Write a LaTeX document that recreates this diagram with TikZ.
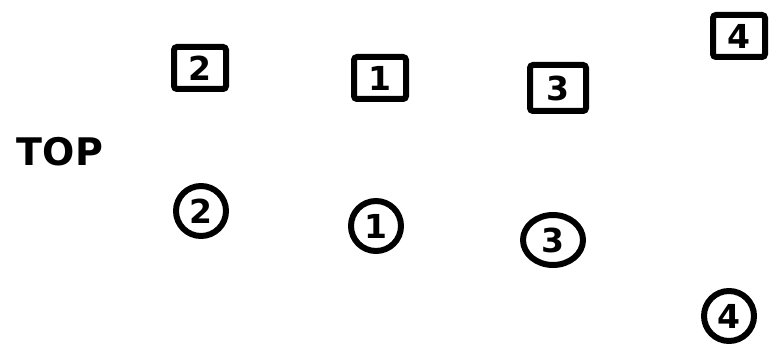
\documentclass[tikz,border=0pt]{standalone}
\usepackage{fontspec}
\usetikzlibrary{shapes.geometric}
\setmainfont{DejaVu Sans}
\begin{document}
\begin{tikzpicture}[x=1pt,y=-1pt,
  sq/.style={draw, line width=6pt, rounded corners=3pt, minimum width=52pt, minimum height=42pt, inner sep=0pt, font=\bfseries\fontsize{33}{33}\selectfont},
  circ/.style={draw, circle, line width=6pt, minimum size=50pt, inner sep=0pt, font=\bfseries\fontsize{33}{33}\selectfont},
  lbl/.style={font=\bfseries\fontsize{38}{38}\selectfont}]
\useasboundingbox (0,0) rectangle (775,347);
\node[lbl] (top) at (60,152) {TOP};
\node[sq] (s2) at (200,68) {2};
\node[sq] (s1) at (380,78) {1};
\node[sq, minimum width=56pt, minimum height=46pt] (s3) at (558,88) {3};
\node[sq] (s4) at (739,36) {4};
\node[circ] (c2) at (201,211) {2};
\node[circ] (c1) at (376,226) {1};
\node[circ, ellipse, minimum width=60pt, minimum height=50pt] (c3) at (553,240) {3};
\node[circ] (c4) at (729,316) {4};
\end{tikzpicture}
\end{document}
